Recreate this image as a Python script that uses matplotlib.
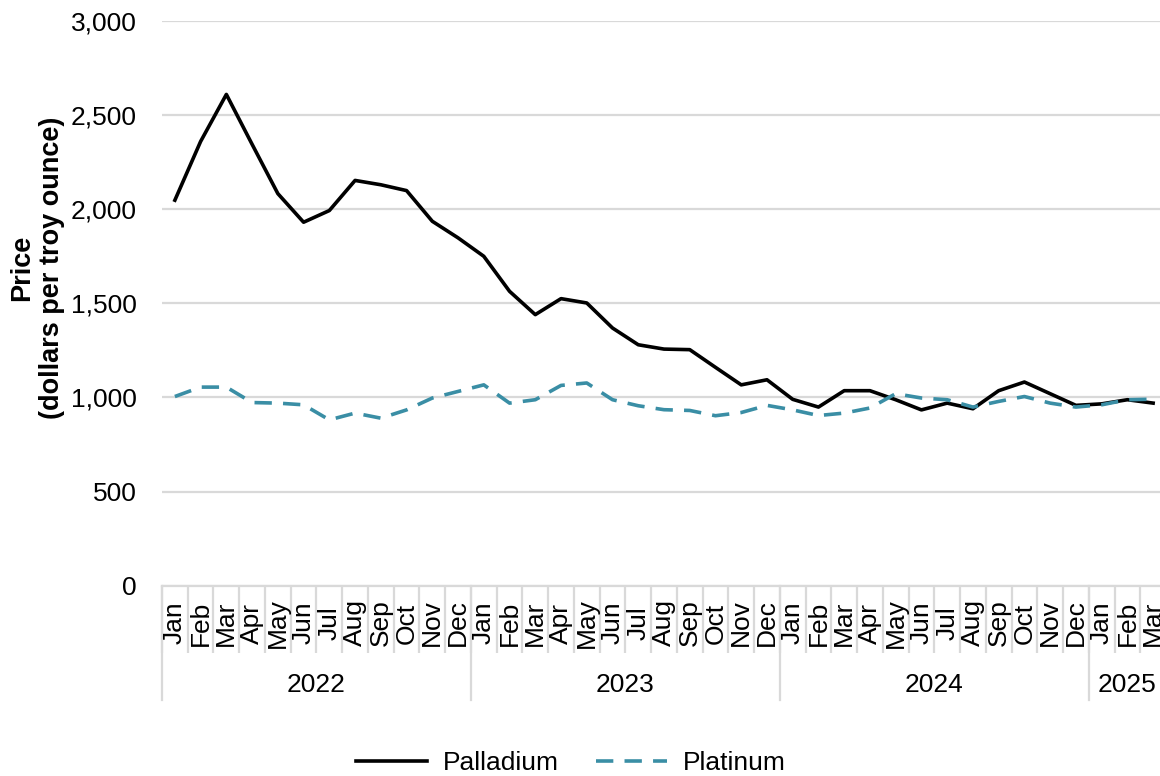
import numpy as np
import matplotlib
matplotlib.use('Agg')
import matplotlib.pyplot as plt
import matplotlib.transforms as mtransforms
from matplotlib.ticker import FuncFormatter

plt.rcParams['font.family'] = ['Liberation Sans', 'DejaVu Sans']

# Monthly average prices, Jan 2022 - Mar 2025 (dollars per troy ounce)
months = ['Jan', 'Feb', 'Mar', 'Apr', 'May', 'Jun',
          'Jul', 'Aug', 'Sep', 'Oct', 'Nov', 'Dec'] * 3 + ['Jan', 'Feb', 'Mar']
years = ['2022', '2023', '2024', '2025']
months_per_year = [12, 12, 12, 3]

palladium = [2048, 2360, 2610, 2345, 2083, 1931, 1993, 2153, 2130, 2099, 1936, 1848,
             1750, 1564, 1440, 1525, 1502, 1369, 1280, 1257, 1254, 1160, 1067, 1094,
             990, 949, 1036, 1036, 988, 934, 970, 940, 1036, 1082, 1020, 958,
             966, 988, 970]
platinum = [1005, 1055, 1055, 973, 970, 961, 881, 917, 890, 934, 997, 1032,
            1067, 970, 988, 1064, 1077, 988, 956, 935, 931, 903, 920, 958,
            934, 904, 917, 944, 1020, 997, 988, 949, 979, 1005, 970, 949,
            961, 988, 991]

teal = '#3A8EA5'
grid_gray = '#D9D9D9'
fs = 19

W, H = 1160, 776
fig = plt.figure(figsize=(W / 100, H / 100), dpi=100)
ax_left, ax_right, ax_top, ax_bottom = 162, 1166, 21, 585.7
ax_h = ax_bottom - ax_top
ax = fig.add_axes([ax_left / W, 1 - ax_bottom / H, (ax_right - ax_left) / W, ax_h / H])

x = np.arange(len(months))
ax.plot(x, palladium, color='black', lw=2.6, label='Palladium', solid_joinstyle='round')
ax.plot(x, platinum, color=teal, lw=2.6, dashes=(4.8, 3.1), label='Platinum')

ax.set_xlim(-0.5, len(months) - 0.5)
ax.set_ylim(0, 3000)
ax.set_yticks(range(0, 3001, 500))
ax.yaxis.set_major_formatter(FuncFormatter(lambda v, p: f'{v:,.0f}'))
ax.grid(axis='y', color=grid_gray, lw=1.6)
ax.set_axisbelow(True)
for side in ['top', 'right', 'left']:
    ax.spines[side].set_visible(False)
ax.spines['bottom'].set_color(grid_gray)
ax.spines['bottom'].set_linewidth(1.6)
ax.tick_params(axis='y', length=0, pad=18, labelsize=fs)

# month separators as minor ticks, labels drawn as rotated text
ax.set_xticks([])
ax.set_xticks(np.arange(-0.5, len(months), 1), minor=True)
ax.tick_params(axis='x', which='minor', length=48, width=1.6, color=grid_gray)

trans = mtransforms.blended_transform_factory(ax.transData, ax.transAxes)
month_y = -(623 - ax_bottom) / ax_h
for i, m in enumerate(months):
    ax.text(i, month_y, m, transform=trans, rotation=90, ha='center', va='center',
            fontsize=fs)

# year groups
year_line_y = -(700 - ax_bottom) / ax_h
year_text_y = -(685 - ax_bottom) / ax_h
start = 0
for yr, n in zip(years, months_per_year):
    ax.plot([start - 0.5, start - 0.5], [0, year_line_y], transform=trans,
            clip_on=False, color=grid_gray, lw=1.6)
    ax.text(start + (n - 1) / 2, year_text_y, yr, transform=trans,
            ha='center', va='center', fontsize=fs)
    start += n

fig.text(37 / W, 1 - 268 / H, 'Price\n(dollars per troy ounce)', rotation=90,
         ha='center', va='center', multialignment='center',
         fontweight='bold', fontsize=19.5)

fig.legend(loc='center', bbox_to_anchor=(571 / W, 1 - 763 / H), ncol=2,
           frameon=False, fontsize=fs, handlelength=2.7, handletextpad=0.6,
           columnspacing=1.4)

fig.savefig('out.png', dpi=100)
